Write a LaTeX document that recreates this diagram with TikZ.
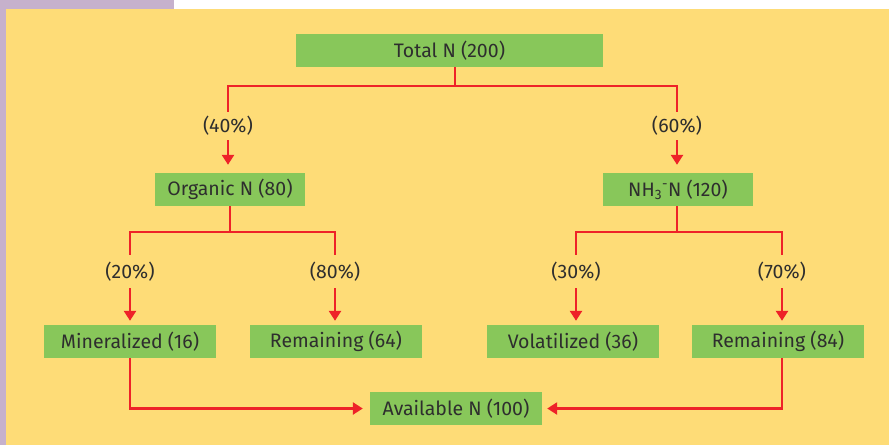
\documentclass[tikz,border=0pt]{standalone}
\usepackage{fontspec}
\setmainfont{Fira Sans}
\usetikzlibrary{arrows.meta}
\definecolor{bgyellow}{HTML}{FEDC77}
\definecolor{boxgreen}{HTML}{88C75A}
\definecolor{linered}{HTML}{EE2228}
\definecolor{lilac}{HTML}{C6B1CC}
\definecolor{txt}{HTML}{2E2E2E}
\tikzset{
  nbox/.style={fill=boxgreen, draw=none, inner sep=0pt, minimum height=33pt, text=txt, font=\fontsize{19.5}{22}\selectfont},
  pct/.style={inner sep=0pt, text=txt, font=\fontsize{19.5}{22}\selectfont},
  pcta/.style={pct, minimum height=28pt},
  pctb/.style={pct, minimum height=33pt},
  wire/.style={draw=linered, line width=2.8pt},
  arr/.style={wire, -{Triangle[width=12pt,length=10pt]}},
}
\begin{document}
\begin{tikzpicture}[x=1pt,y=-1pt]
\useasboundingbox (0,0) rectangle (889,445);
\fill[bgyellow] (0,0) rectangle (889,445);
\fill[white] (174,0) rectangle (889,9);
\fill[lilac] (0,0) rectangle (174,9);
\fill[lilac] (0,0) rectangle (6,445);

\node[nbox, minimum width=307pt] (total) at (449.5,50.5) {Total N (200)};
\node[nbox, minimum width=150pt] (org) at (230,189.5) {Organic N (80)};
\node[nbox, minimum width=150pt] (nh3) at (678,189.5) {NH\textsubscript{3}\textsuperscript{-}N (120)};
\node[nbox, minimum width=172pt] (min) at (130,341.5) {Mineralized (16)};
\node[nbox, minimum width=172pt] (rem64) at (336,341.5) {Remaining (64)};
\node[nbox, minimum width=172pt] (vol) at (573,341.5) {Volatilized (36)};
\node[nbox, minimum width=172pt] (rem84) at (778,341.5) {Remaining (84)};
\node[nbox, minimum width=172pt] (avail) at (456,408.5) {Available N (100)};

\node[pcta] (p40) at (228,126) {(40\%)};
\node[pcta] (p60) at (677,126) {(60\%)};
\node[pctb] (p20) at (130,271.5) {(20\%)};
\node[pctb] (p80) at (335,271.5) {(80\%)};
\node[pctb] (p30) at (576,271.5) {(30\%)};
\node[pctb] (p70) at (782,271.5) {(70\%)};

\coordinate (j0) at (455,86);
\coordinate (j1) at (230,232);
\coordinate (j2) at (677,232);

% top level
\draw[wire] (total.south -| j0) -- (j0);
\draw[wire] (p40.north) -- (p40.north |- j0) -- (p60.north |- j0) -- (p60.north);
\draw[arr, shorten >=8pt] (p40.south) -- (p40.south |- org.north);
\draw[arr, shorten >=8pt] (p60.south) -- (p60.south |- nh3.north);

% organic branch
\draw[wire] (org.south -| j1) -- (j1);
\draw[wire] (p20.north) -- (p20.north |- j1) -- (p80.north |- j1) -- (p80.north);
\draw[arr, shorten >=4pt] (p20.south) -- (p20.south |- min.north);
\draw[arr, shorten >=4pt] (p80.south) -- (p80.south |- rem64.north);

% NH3 branch
\draw[wire] (nh3.south -| j2) -- (j2);
\draw[wire] (p30.north) -- (p30.north |- j2) -- (p70.north |- j2) -- (p70.north);
\draw[arr, shorten >=4pt] (p30.south) -- (p30.south |- vol.north);
\draw[arr, shorten >=4pt] (p70.south) -- (p70.south |- rem84.north);

% to available
\draw[arr, shorten >=7pt] (min.south) |- (avail.west);
\draw[arr, shorten >=5pt] (rem84.south -| p70) |- (avail.east);
\end{tikzpicture}
\end{document}
